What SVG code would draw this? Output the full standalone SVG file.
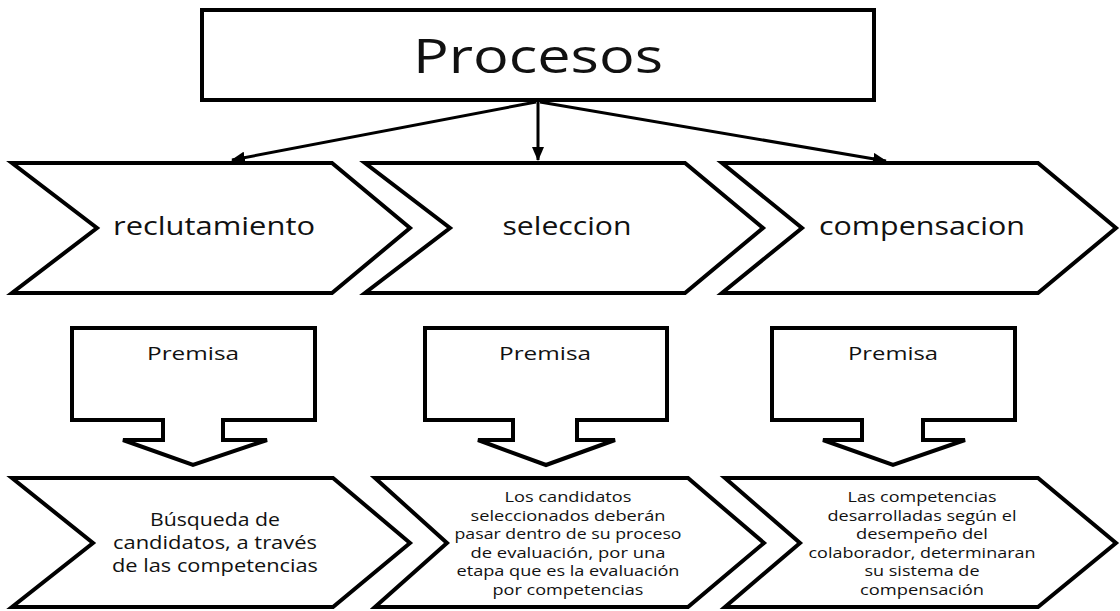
<svg xmlns="http://www.w3.org/2000/svg" width="1120" height="611" viewBox="0 0 1120 611">
<style>
.shape{fill:#fff;stroke:#000;stroke-width:4;stroke-linejoin:miter}
.conn{stroke:#000;stroke-width:3;fill:none}
text{font-family:"Open Sans","Noto Sans","Liberation Sans",sans-serif;fill:#111;text-anchor:middle}
.title{font-size:48px}
.lbl{font-size:26px}
.prem{font-size:19px}
.b1{font-size:18px}
.b2{font-size:15px}
</style>
<defs>
<marker id="ah" markerUnits="userSpaceOnUse" markerWidth="14" markerHeight="12" refX="13" refY="6" orient="auto">
<path d="M0,0 L14,6 L0,12 Z" fill="#000"/>
</marker>
</defs>
<rect width="1120" height="611" fill="#fff"/>
<g id="procesos">
<rect class="shape" x="202" y="10" width="672" height="90"/>
<text class="title" x="538" y="73" textLength="250" lengthAdjust="spacingAndGlyphs">Procesos</text>
</g>
<g id="connectors">
<line class="conn" x1="536" y1="102" x2="232" y2="160" marker-end="url(#ah)"/>
<line class="conn" x1="538" y1="102" x2="538" y2="160" marker-end="url(#ah)"/>
<line class="conn" x1="540" y1="102" x2="886" y2="161" marker-end="url(#ah)"/>
</g>
<g id="reclutamiento">
<polygon class="shape" points="12,163 332,163 410,228 332,293 12,293 97,228"/>
<text class="lbl" x="214" y="235" textLength="202" lengthAdjust="spacingAndGlyphs">reclutamiento</text>
</g>
<g id="seleccion">
<polygon class="shape" points="365,163 685,163 763,228 685,293 365,293 450,228"/>
<text class="lbl" x="567" y="235" textLength="129" lengthAdjust="spacingAndGlyphs">seleccion</text>
</g>
<g id="compensacion">
<polygon class="shape" points="722,163 1038,163 1116,228 1038,293 722,293 802,228"/>
<text class="lbl" x="922" y="235" textLength="206" lengthAdjust="spacingAndGlyphs">compensacion</text>
</g>
<g id="premisa1">
<path class="shape" d="M72,328 H315 V420 H223 V440 H267 L193,465 L123,440 H163 V420 H72 Z"/>
<text class="prem" x="193" y="360" textLength="92" lengthAdjust="spacingAndGlyphs">Premisa</text>
</g>
<g id="premisa2">
<path class="shape" d="M425,328 H667 V420 H577 V440 H615 L546,465 L478,440 H513 V420 H425 Z"/>
<text class="prem" x="545" y="360" textLength="92" lengthAdjust="spacingAndGlyphs">Premisa</text>
</g>
<g id="premisa3">
<path class="shape" d="M772,328 H1015 V420 H923 V440 H965 L893,465 L823,440 H862 V420 H772 Z"/>
<text class="prem" x="893" y="360" textLength="90" lengthAdjust="spacingAndGlyphs">Premisa</text>
</g>
<g id="busqueda">
<polygon class="shape" points="12,478 333,478 410,543 333,607 12,607 93,543"/>
<text class="b1" x="215" y="526" textLength="130" lengthAdjust="spacingAndGlyphs">Búsqueda de</text>
<text class="b1" x="215" y="549" textLength="204" lengthAdjust="spacingAndGlyphs">candidatos, a través</text>
<text class="b1" x="215" y="572" textLength="206" lengthAdjust="spacingAndGlyphs">de las competencias</text>
</g>
<g id="candidatos">
<polygon class="shape" points="375,478 688,478 764,543 688,607 375,607 447,543"/>
<text class="b2" x="568" y="502" textLength="127" lengthAdjust="spacingAndGlyphs">Los candidatos</text>
<text class="b2" x="568" y="520.5" textLength="195" lengthAdjust="spacingAndGlyphs">seleccionados deberán</text>
<text class="b2" x="568" y="539" textLength="227" lengthAdjust="spacingAndGlyphs">pasar dentro de su proceso</text>
<text class="b2" x="568" y="557.5" textLength="195" lengthAdjust="spacingAndGlyphs">de evaluación, por una</text>
<text class="b2" x="568" y="576" textLength="223" lengthAdjust="spacingAndGlyphs">etapa que es la evaluación</text>
<text class="b2" x="568" y="594.5" textLength="151" lengthAdjust="spacingAndGlyphs">por competencias</text>
</g>
<g id="competencias">
<polygon class="shape" points="725,478 1038,478 1116,543 1038,607 725,607 800,543"/>
<text class="b2" x="922" y="502" textLength="149" lengthAdjust="spacingAndGlyphs">Las competencias</text>
<text class="b2" x="922" y="520.5" textLength="189" lengthAdjust="spacingAndGlyphs">desarrolladas según el</text>
<text class="b2" x="922" y="539" textLength="132" lengthAdjust="spacingAndGlyphs">desempeño del</text>
<text class="b2" x="922" y="557.5" textLength="227" lengthAdjust="spacingAndGlyphs">colaborador, determinaran</text>
<text class="b2" x="922" y="576" textLength="115" lengthAdjust="spacingAndGlyphs">su sistema de</text>
<text class="b2" x="922" y="594.5" textLength="124" lengthAdjust="spacingAndGlyphs">compensación</text>
</g>
</svg>
